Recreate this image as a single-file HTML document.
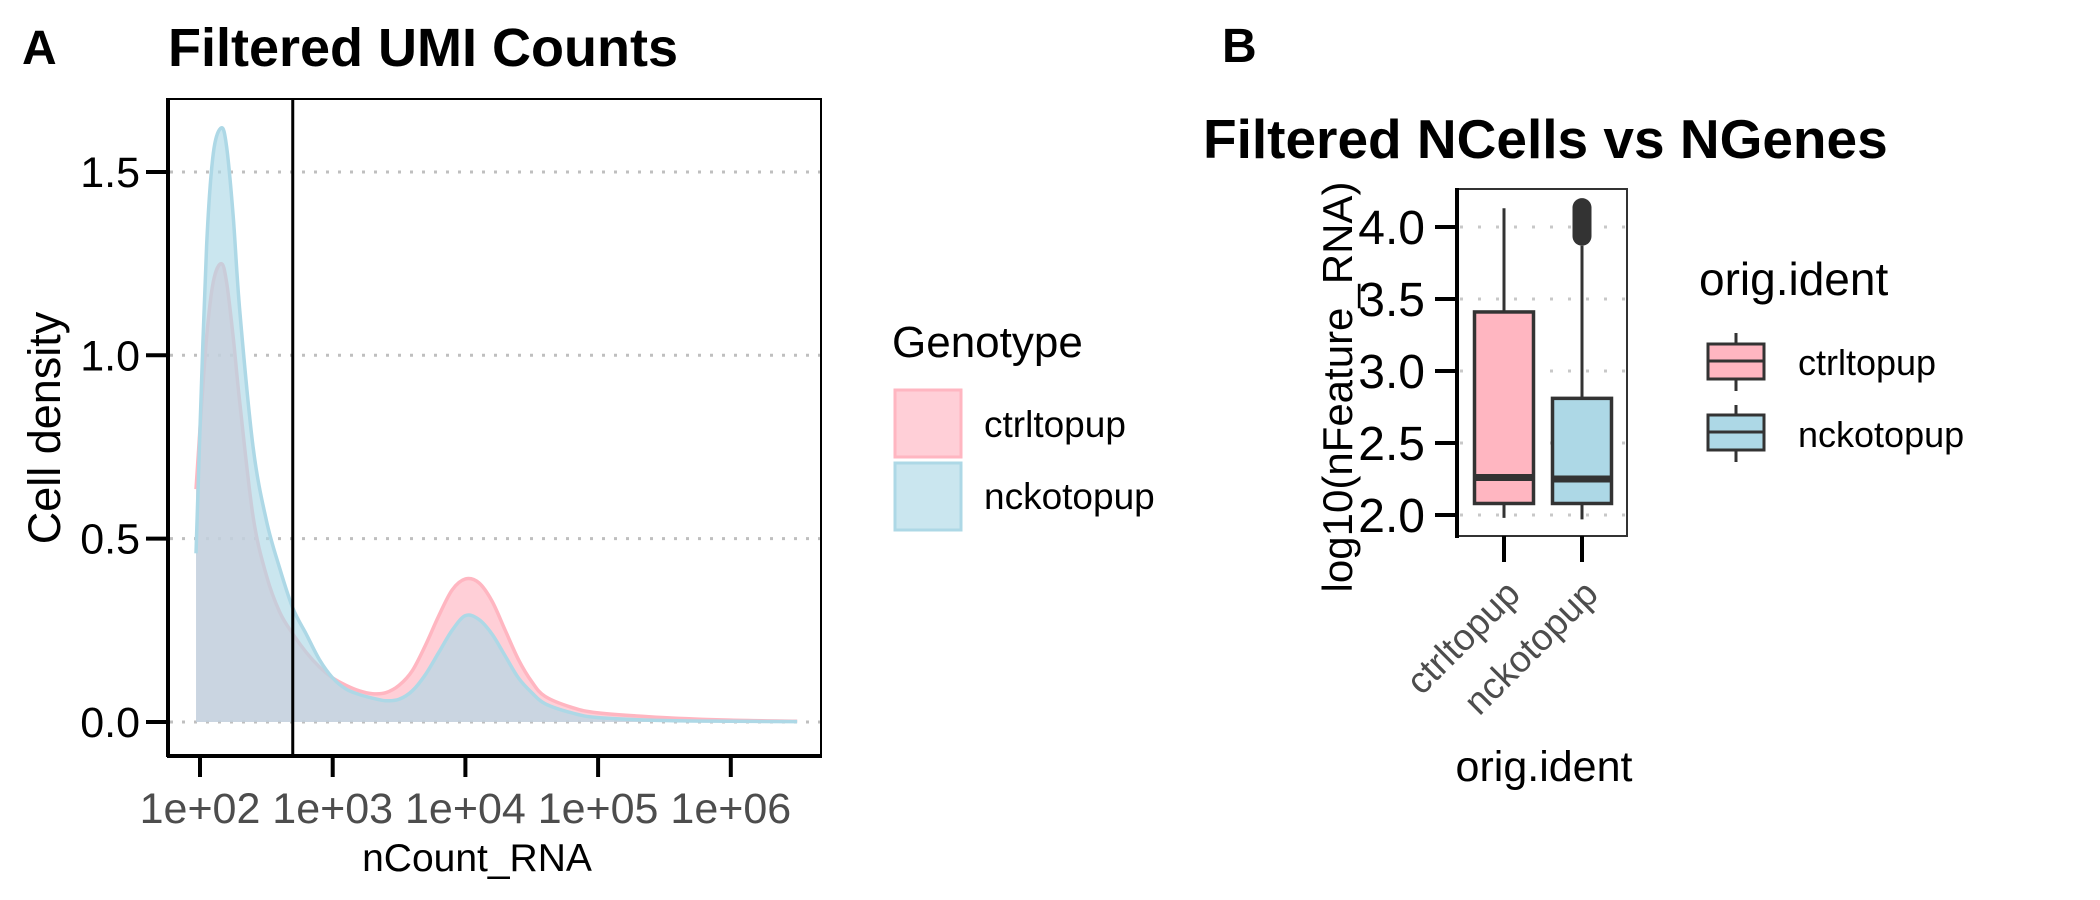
<!DOCTYPE html>
<html><head><meta charset="utf-8"><style>
html,body{margin:0;padding:0;background:#fff;}
svg{display:block;font-family:"Liberation Sans",Arial,sans-serif;}
</style></head><body>
<svg id="fig" width="2100" height="900" viewBox="0 0 2100 900" xmlns="http://www.w3.org/2000/svg">
<text x="22" y="64" font-size="48" font-weight="bold">A</text>
<text x="168" y="66" font-size="54" font-weight="bold">Filtered UMI Counts</text>
<g id="pa"></g>
<text transform="translate(60,428) rotate(-90)" text-anchor="middle" font-size="45">Cell density</text>
<text x="477" y="871" text-anchor="middle" font-size="39">nCount_RNA</text>
<g>
<text x="892" y="357" font-size="44">Genotype</text>
<rect x="895" y="390" width="66" height="67" fill="#FFB6C1" fill-opacity="0.65" stroke="#FFB6C1" stroke-width="3"/>
<rect x="895" y="463" width="66" height="67" fill="#ADD8E6" fill-opacity="0.65" stroke="#ADD8E6" stroke-width="3"/>
<text x="984" y="437" font-size="37">ctrltopup</text>
<text x="984" y="509" font-size="37">nckotopup</text>
</g>
<text x="1222" y="62" font-size="48" font-weight="bold">B</text>
<text x="1203" y="158" font-size="55" font-weight="bold">Filtered NCells vs NGenes</text>
<g id="pb"></g>
<text transform="translate(1352,387) rotate(-90)" text-anchor="middle" font-size="42">log10(nFeature_RNA)</text>
<text x="1544" y="781" text-anchor="middle" font-size="43">orig.ident</text>
<g>
<text x="1699" y="295" font-size="46">orig.ident</text>
<line x1="1736" y1="333" x2="1736" y2="391" stroke="#333" stroke-width="3"/>
<rect x="1708" y="344" width="56" height="35" fill="#FFB6C1" stroke="#333" stroke-width="3"/>
<line x1="1708" y1="361" x2="1764" y2="361" stroke="#333" stroke-width="3"/>
<line x1="1736" y1="405" x2="1736" y2="462" stroke="#333" stroke-width="3"/>
<rect x="1708" y="415" width="56" height="35" fill="#ADD8E6" stroke="#333" stroke-width="3"/>
<line x1="1708" y1="432" x2="1764" y2="432" stroke="#333" stroke-width="3"/>
<text x="1798" y="375" font-size="36">ctrltopup</text>
<text x="1798" y="447" font-size="36">nckotopup</text>
</g>
</svg>
<script>
const densX=[1.97,2.0,2.05,2.1,2.16,2.2,2.25,2.3,2.4,2.5,2.6,2.7,2.8,2.9,3.0,3.1,3.2,3.3,3.4,3.5,3.6,3.7,3.8,3.9,4.0,4.1,4.2,4.3,4.4,4.5,4.6,4.8,5.0,5.5,6.0,6.5];
const densCtrl=[0.635,0.8,1.05,1.2,1.25,1.2,1.05,0.87,0.56,0.4,0.3,0.24,0.19,0.15,0.12,0.1,0.085,0.077,0.08,0.1,0.14,0.21,0.29,0.36,0.39,0.38,0.33,0.25,0.17,0.11,0.07,0.04,0.025,0.012,0.005,0.002];
const densNcko=[0.46,0.8,1.3,1.55,1.62,1.57,1.38,1.12,0.75,0.55,0.42,0.31,0.24,0.17,0.12,0.09,0.075,0.065,0.058,0.062,0.085,0.13,0.19,0.25,0.29,0.28,0.24,0.18,0.12,0.08,0.05,0.025,0.012,0.004,0.002,0.001];
const yTicksA=[0,0.5,1.0,1.5];
const yTickLabelsA=["0.0","0.5","1.0","1.5"];
const xTicksA=[2,3,4,5,6];
const xTickLabelsA=["1e+02","1e+03","1e+04","1e+05","1e+06"];
const cutoff=500;
const boxCats=["ctrltopup","nckotopup"];
const boxQ1=[2.08,2.08];
const boxMed=[2.26,2.25];
const boxQ3=[3.41,2.81];
const boxLo=[1.98,1.97];
const boxHi=[4.13,3.87];
const outlierLo=[null,3.88];
const outlierHi=[null,4.19];
const yTicksB=[2.0,2.5,3.0,3.5,4.0];
const yTickLabelsB=["2.0","2.5","3.0","3.5","4.0"];
const NS="http://www.w3.org/2000/svg";
function mk(p,t,a){const e=document.createElementNS(NS,t);for(const k in a)e.setAttribute(k,a[k]);p.appendChild(e);return e;}
// Panel A
const pa=document.getElementById('pa');
const xA=v=>200+(v-2)*132.7, yA=v=>722-v*366.7;
for(let i=0;i<yTicksA.length;i++){
 const g=mk(pa,'line',{x1:170,x2:820,y1:yA(yTicksA[i]),y2:yA(yTicksA[i]),stroke:'#bfbfbf','stroke-width':3,'stroke-dasharray':'3 9'});
 
 
}
function smooth(xs,ys){
 const P=xs.map((x,i)=>[xA(x),yA(ys[i])]);let d='M'+P[0][0]+','+P[0][1];
 for(let i=0;i<P.length-1;i++){const p0=P[Math.max(0,i-1)],p1=P[i],p2=P[i+1],p3=P[Math.min(P.length-1,i+2)];
  d+=' C'+(p1[0]+(p2[0]-p0[0])/6)+','+(p1[1]+(p2[1]-p0[1])/6)+' '+(p2[0]-(p3[0]-p1[0])/6)+','+(p2[1]-(p3[1]-p1[1])/6)+' '+p2[0]+','+p2[1];}
 return d;}
[[densCtrl,'#FFB6C1','density-ctrltopup'],[densNcko,'#ADD8E6','density-nckotopup']].forEach(([ys,c,n])=>{
 const d=smooth(densX,ys);
 const a=mk(pa,'path',{d:d+' L'+xA(densX[densX.length-1])+','+yA(0)+' L'+xA(densX[0])+','+yA(0)+' Z',fill:c,'fill-opacity':0.65,stroke:'none'});
 
 
 const l=mk(pa,'path',{d:d,fill:'none',stroke:c,'stroke-width':3.5});
 
 
});
const vl=mk(pa,'line',{x1:xA(Math.log10(cutoff)),x2:xA(Math.log10(cutoff)),y1:99,y2:755,stroke:'#000','stroke-width':3});


const fa=mk(pa,'rect',{x:169,y:99,width:652,height:656,fill:'none',stroke:'#000','stroke-width':2});


mk(pa,'line',{x1:168,x2:168,y1:98,y2:757,stroke:'#000','stroke-width':4});
mk(pa,'line',{x1:167,x2:822,y1:756,y2:756,stroke:'#000','stroke-width':4});
for(let i=0;i<yTicksA.length;i++){
 mk(pa,'line',{x1:146,x2:168,y1:yA(yTicksA[i]),y2:yA(yTicksA[i]),stroke:'#000','stroke-width':4});
 const t=mk(pa,'text',{x:140,y:yA(yTicksA[i])+15,'text-anchor':'end','font-size':43,fill:'#000'});t.textContent=yTickLabelsA[i];
 
 
}
for(let i=0;i<xTicksA.length;i++){
 mk(pa,'line',{x1:xA(xTicksA[i]),x2:xA(xTicksA[i]),y1:756,y2:777,stroke:'#000','stroke-width':4});
 const t=mk(pa,'text',{x:xA(xTicksA[i]),y:823,'text-anchor':'middle','font-size':43,fill:'#4d4d4d'});t.textContent=xTickLabelsA[i];
 
 
}
// Panel B
const pb=document.getElementById('pb');
const yB=v=>515-(v-2)*144, xB=i=>1504+i*78;
mk(pb,'rect',{x:1458,y:189,width:169,height:347,fill:'#fff',stroke:'#333','stroke-width':2});
for(let i=0;i<yTicksB.length;i++){
 const g=mk(pb,'line',{x1:1460,x2:1625,y1:yB(yTicksB[i]),y2:yB(yTicksB[i]),stroke:'#c8c8c8','stroke-width':3,'stroke-dasharray':'3 15'});
 
 
}
const fills=['#FFB6C1','#ADD8E6'];
for(let i=0;i<boxCats.length;i++){
 const cx=xB(i);
 const w=mk(pb,'line',{x1:cx,x2:cx,y1:yB(boxHi[i]),y2:yB(boxLo[i]),stroke:'#333','stroke-width':3});
 
 
 if(outlierLo[i]!==null){
  const o=mk(pb,'line',{x1:cx,x2:cx,y1:yB(outlierHi[i])+8,y2:yB(outlierLo[i])-8,stroke:'#333','stroke-width':19,'stroke-linecap':'round'});
  
  
 }
 const b=mk(pb,'rect',{x:cx-29.5,y:yB(boxQ3[i]),width:59,height:yB(boxQ1[i])-yB(boxQ3[i]),fill:fills[i],stroke:'#333','stroke-width':3.5});
 
 
 const m=mk(pb,'line',{x1:cx-29.5,x2:cx+29.5,y1:yB(boxMed[i]),y2:yB(boxMed[i]),stroke:'#333','stroke-width':7});
 
 
 mk(pb,'line',{x1:cx,x2:cx,y1:536,y2:562,stroke:'#000','stroke-width':4});
 const t=mk(pb,'text',{transform:'translate('+(cx+18)+',596) rotate(-45)','text-anchor':'end','font-size':37,fill:'#4d4d4d'});t.textContent=boxCats[i];
 
 
}
mk(pb,'line',{x1:1457,x2:1457,y1:188,y2:538,stroke:'#000','stroke-width':4});
for(let i=0;i<yTicksB.length;i++){
 mk(pb,'line',{x1:1435,x2:1457,y1:yB(yTicksB[i]),y2:yB(yTicksB[i]),stroke:'#000','stroke-width':4});
 const t=mk(pb,'text',{x:1425,y:yB(yTicksB[i])+17,'text-anchor':'end','font-size':48,fill:'#000'});t.textContent=yTickLabelsB[i];
 
 
}
</script>
</body></html>
